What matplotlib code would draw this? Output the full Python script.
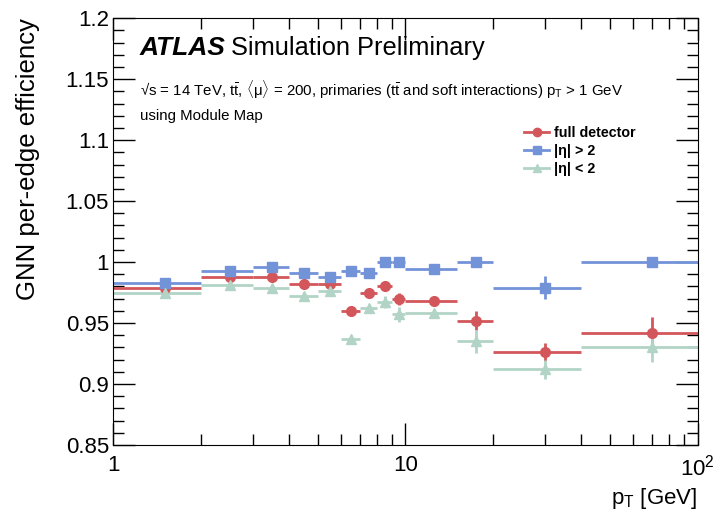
import numpy as np
import matplotlib
matplotlib.use("Agg")
import matplotlib.pyplot as plt
from matplotlib.lines import Line2D
from matplotlib.ticker import MultipleLocator, LogLocator, NullFormatter

plt.rcParams['font.family'] = ['Liberation Sans', 'DejaVu Sans']
plt.rcParams['mathtext.fontset'] = 'custom'
plt.rcParams['mathtext.rm'] = 'Liberation Sans'
plt.rcParams['mathtext.it'] = 'Liberation Sans:italic'
plt.rcParams['mathtext.bf'] = 'Liberation Sans:bold'

# pT bins [GeV]
bin_edges = [1, 2, 3, 4, 5, 6, 7, 8, 9, 10, 15, 20, 40, 100]

# efficiencies
eff_full = [0.979, 0.988, 0.988, 0.982, 0.982, 0.960, 0.975, 0.980, 0.970, 0.968, 0.952, 0.926, 0.942]
err_full = [0.001, 0.001, 0.001, 0.001, 0.0015, 0.002, 0.002, 0.003, 0.005, 0.003, 0.0075, 0.0075, 0.013]

eff_fwd = [0.983, 0.993, 0.996, 0.991, 0.988, 0.993, 0.991, 1.000, 1.000, 0.994, 1.000, 0.979, 1.000]
err_fwd = [0.001, 0.001, 0.001, 0.001, 0.001, 0.001, 0.001, 0.001, 0.001, 0.001, 0.001, 0.0095, 0.001]

eff_cen = [0.975, 0.981, 0.979, 0.972, 0.976, 0.937, 0.962, 0.967, 0.957, 0.958, 0.935, 0.912, 0.930]
err_cen = [0.001, 0.001, 0.001, 0.002, 0.002, 0.003, 0.003, 0.005, 0.006, 0.003, 0.0095, 0.008, 0.012]

edges = np.array(bin_edges, dtype=float)
centres = 0.5 * (edges[:-1] + edges[1:])
xerr = [centres - edges[:-1], edges[1:] - centres]

fig = plt.figure(figsize=(7.26, 5.21), dpi=100)
ax = fig.add_axes([0.156, 0.146, 0.805, 0.819])

series = [
    (eff_full, err_full, '#d3565a', 'o', 'full detector'),
    (eff_fwd, err_fwd, '#7393d9', 's', '|η| > 2'),
    (eff_cen, err_cen, '#b2d4c6', '^', '|η| < 2'),
]
handles = []
for vals, errs, col, mk, lab in series:
    ax.errorbar(centres, vals, xerr=xerr, yerr=errs, fmt=mk, color=col,
                ms=7, elinewidth=2, capsize=0)
    handles.append(Line2D([], [], color=col, marker=mk, ms=6, lw=2, label=lab))

ax.set_xscale('log')
ax.set_xlim(1, 100)
ax.set_ylim(0.85, 1.2)

ax.yaxis.set_minor_locator(MultipleLocator(0.01))
ax.set_yticks([0.85, 0.9, 0.95, 1.0, 1.05, 1.1, 1.15, 1.2])
ax.set_yticklabels(['0.85', '0.9', '0.95', '1', '1.05', '1.1', '1.15', '1.2'])
ax.set_xticks([1, 10, 100])
ax.set_xticklabels(['1', '10', r'10$^{2}$'])
ax.xaxis.set_minor_locator(LogLocator(base=10, subs=np.arange(2, 10)))
ax.xaxis.set_minor_formatter(NullFormatter())

ax.tick_params(which='both', direction='in', top=True, right=True, labelsize=16)
ax.tick_params(which='major', length=16, width=1)
ax.tick_params(which='minor', length=8, width=1)
ax.tick_params(axis='x', pad=7)
ax.tick_params(axis='y', pad=3)

ax.set_ylabel('GNN per-edge efficiency', fontsize=18.5, loc='top')
ax.yaxis.set_label_coords(-0.125, 1.0)
ax.set_xlabel(r'p$_{\mathrm{T}}$ [GeV]', fontsize=16, loc='right')

ax.text(0.045, 0.93, 'ATLAS', transform=ax.transAxes, fontsize=19,
        fontweight='bold', fontstyle='italic', va='center')
ax.text(0.202, 0.93, 'Simulation Preliminary', transform=ax.transAxes,
        fontsize=18.3, va='center')
ax.text(0.045, 0.835,
        r'√s = 14 TeV, $\mathrm{t\bar{t}}$, $\langle$μ$\rangle$ = 200, '
        r'primaries ($\mathrm{t\bar{t}}$ and soft interactions) p$_{\mathrm{T}}$ > 1 GeV',
        transform=ax.transAxes, fontsize=10.8, va='center')
ax.text(0.045, 0.77, 'using Module Map', transform=ax.transAxes,
        fontsize=10.8, va='center')

leg = ax.legend(handles=handles, loc='upper left', bbox_to_anchor=(0.69, 0.765),
                frameon=False, fontsize=10.3, handlelength=1.8,
                labelspacing=0.3, borderpad=0, handletextpad=0.35)
for t in leg.get_texts():
    t.set_fontweight('bold')

fig.savefig('out.png', dpi=100)
